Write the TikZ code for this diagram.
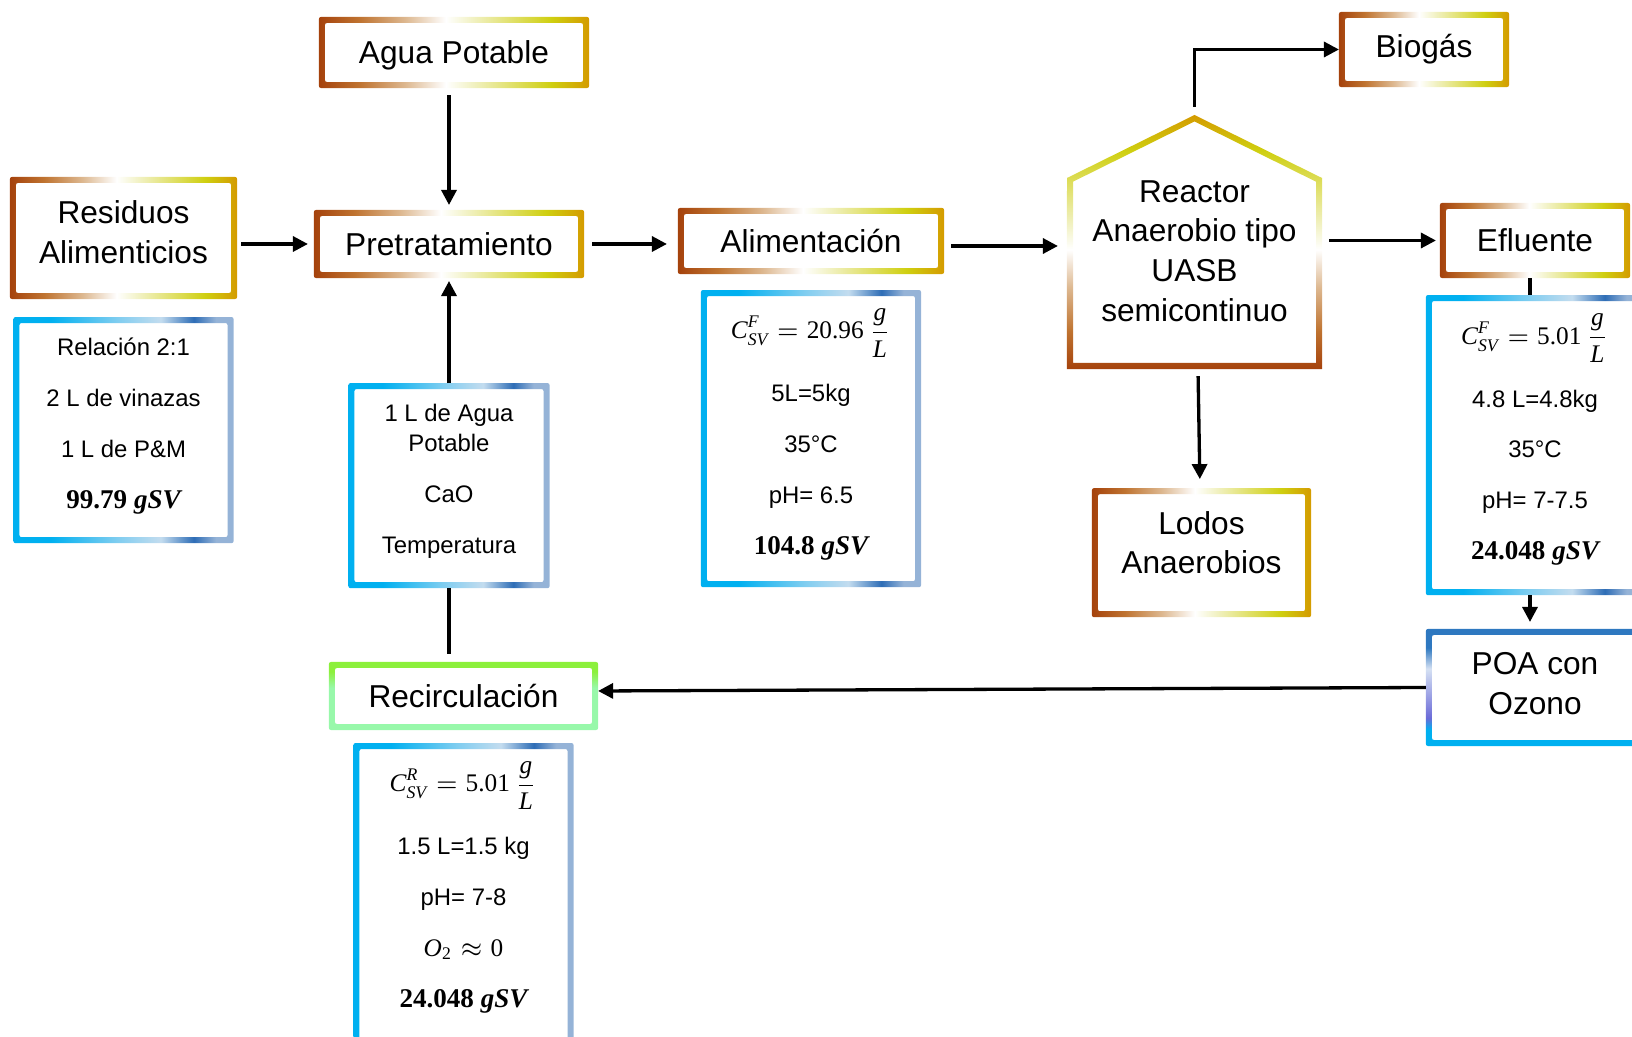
\documentclass[tikz,border=0pt]{standalone}
\usepackage{amsmath}
\usepackage{fontspec}
\newfontfamily\arialfont{Liberation Sans}
\newfontfamily\valfont{Liberation Serif}
\usetikzlibrary{arrows.meta, positioning, calc}

\definecolor{warmA}{HTML}{A5420C}
\definecolor{warmB}{HTML}{BF7330}
\definecolor{warmC}{HTML}{DDB890}
\definecolor{warmD}{HTML}{F0F0BC}
\definecolor{warmE}{HTML}{CFCF10}
\definecolor{warmF}{HTML}{D49B00}
\definecolor{coolA}{HTML}{00B0F0}
\definecolor{coolB}{HTML}{7FCDF0}
\definecolor{coolC}{HTML}{C3DCEF}
\definecolor{coolD}{HTML}{2E6DB6}
\definecolor{coolE}{HTML}{95B3D7}
\definecolor{poaB}{HTML}{6B6BD8}
\definecolor{poaC}{HTML}{D5E1F3}
\definecolor{poaD}{HTML}{2E78C0}
\definecolor{limeA}{HTML}{8CF03C}
\definecolor{mintA}{HTML}{98F8AA}

% rim colours, laid out between 25bp and 75bp
\pgfdeclarehorizontalshading{warmrim}{100bp}{color(0bp)=(warmA); color(25bp)=(warmA); color(32.5bp)=(warmB); color(41bp)=(warmC); color(48.5bp)=(white); color(54bp)=(warmD); color(68bp)=(warmE); color(75bp)=(warmF); color(100bp)=(warmF)}
\pgfdeclarehorizontalshading{coolrim}{100bp}{color(0bp)=(coolA); color(25bp)=(coolA); color(33.5bp)=(coolA); color(48.5bp)=(coolB); color(58.5bp)=(coolC); color(66bp)=(coolD); color(71bp)=(coolE); color(100bp)=(coolE)}
\pgfdeclareverticalshading{poarim}{100bp}{color(0bp)=(coolA); color(25bp)=(coolA); color(32bp)=(coolA); color(37bp)=(poaB); color(58bp)=(poaC); color(67bp)=(poaD); color(100bp)=(poaD)}
\pgfdeclareverticalshading{greenrim}{100bp}{color(0bp)=(mintA); color(25bp)=(mintA); color(56bp)=(mintA); color(68bp)=(limeA); color(100bp)=(limeA)}

% shaded frame round a node (outer sep = frame width)
\newcommand\rimbox[2][warmrim]{%
  \shade[shading=#1, even odd rule, rounded corners=0.02cm]
    (#2.south west) rectangle (#2.north east)
    ([shift={(0.06cm,0.06cm)}]#2.south west) rectangle ([shift={(-0.06cm,-0.06cm)}]#2.north east);}
% formulas in a serif face
\newcommand\varit[1]{\text{\valfont\itshape #1}}
\newcommand\varup[1]{\text{\valfont #1}}
\newcommand\conc[2]{{\fontsize{7.2}{14.5}\selectfont
  $\varit{C}^{\varit{#1}}_{\varit{SV}} = \varup{#2}\,\dfrac{\varit{g}}{\varit{L}}$}}
\newcommand\valmath[1]{{\fontsize{7.2}{14.5}\selectfont$#1$}}
\newcommand\solids[1]{{\fontsize{7.7}{14.5}\selectfont\valfont\bfseries #1 \itshape gSV}}

\begin{document}
\begin{tikzpicture}[
  x=0.01cm, y=-0.01cm,
  >={Triangle[length=0.15cm,width=0.15cm]},
  box/.style={rectangle, fill=white, inner sep=0pt, outer sep=0.06cm, align=center,
    font=\arialfont\fontsize{9}{11.3}\selectfont},
  data/.style={box, text depth=4pt, font=\arialfont\fontsize{6.8}{14.5}\selectfont},
  flow/.style={->, line width=0.033cm},
  link/.style={line width=0.033cm}
]
  \useasboundingbox (0,0) rectangle (1632,1037);

  \node[box, text depth=3.5pt, minimum width=2.15cm, minimum height=1.10cm] (resid) at (123.5,238) {Residuos\\Alimenticios};
  \node[box, text depth=0pt, minimum width=2.58cm, minimum height=0.59cm] (agua) at (454,52.5) {Agua Potable};
  \node[box, minimum width=2.58cm, minimum height=0.56cm] (pret) at (449,244) {Pretratamiento};
  \node[box, minimum width=2.54cm, minimum height=0.54cm] (alim) at (811,241) {Alimentación};
  \node[box, fill=none, outer sep=0pt, minimum width=2.55cm, minimum height=2.36cm] (reactor) at (1194.5,251)
    {Reactor\\Anaerobio tipo\\UASB\\semicontinuo};
  \node[box, minimum width=1.58cm, minimum height=0.63cm] (biogas) at (1424,49.5) {Biogás};
  \node[box, text depth=5.8pt, minimum width=2.07cm, minimum height=1.17cm, below=1.19cm of reactor, xshift=0.07cm] (lodos) {Lodos\\Anaerobios};
  \node[box, minimum width=1.78cm, minimum height=0.63cm] (eflu) at (1535,240.5) {Efluente};
  \node[box, text depth=2.5pt, minimum width=2.06cm, minimum height=1.05cm] (poa) at (1535,687.5) {POA con\\Ozono};
  \node[box, minimum width=2.57cm, minimum height=0.56cm] (recirc) at (463.5,696) {Recirculación};

  \node[data, minimum width=2.08cm, minimum height=2.14cm, below=0.18cm of resid] (mixdata)
    {Relación 2:1\\2 L de vinazas\\1 L de P\&M\\\solids{99.79}};
  \node[data, minimum width=2.08cm, minimum height=2.85cm, below=0.16cm of alim] (feeddata)
    {\conc{F}{20.96}\\[0.12cm]5L=5kg\\35°C\\pH= 6.5\\\solids{104.8}};
  \node[data, text depth=4.6pt, minimum width=2.06cm, minimum height=2.88cm, below=0.17cm of eflu] (effdata)
    {\conc{F}{5.01}\\[0.12cm]4.8 L=4.8kg\\35°C\\pH= 7-7.5\\\solids{24.048}};
  \node[data, minimum width=1.89cm, minimum height=1.93cm, below=1.05cm of pret] (pretdata)
    {1 L de Agua\\[-6pt]Potable\\CaO\\Temperatura};
  \node[data, text depth=7pt, minimum width=2.08cm, minimum height=2.95cm, below=0.13cm of recirc] (recdata)
    {\conc{R}{5.01}\\[0.12cm]1.5 L=1.5 kg\\pH= 7-8\\\valmath{\varit{O}_{\varup{2}} \approx \varup{0}}\\\solids{24.048}};

  \rimbox{resid} \rimbox{agua} \rimbox{pret} \rimbox{alim}
  \rimbox{biogas} \rimbox{lodos} \rimbox{eflu}
  \rimbox[poarim]{poa} \rimbox[greenrim]{recirc}
  \rimbox[coolrim]{mixdata} \rimbox[coolrim]{feeddata} \rimbox[coolrim]{effdata}
  \rimbox[coolrim]{pretdata} \rimbox[coolrim]{recdata}

  % reactor outline (house shape)
  \coordinate (apex) at (1194.5,115);
  \shade[shading=warmrim, shading angle=90, even odd rule]
    (reactor.south west) -- (reactor.south east) -- (1322,178) -- (apex) -- (1067,178) -- cycle
    (1073,363) -- (1316,363) -- (1316,181.7) -- (1194.5,121.5) -- (1073,181.7) -- cycle;

  \draw[flow, shorten <=0.04cm, shorten >=0.06cm] (resid.east |- pret.west) -- (pret.west);
  \draw[flow, shorten <=0.07cm, shorten >=0.05cm] (pret.north |- agua.south) -- (pret.north);
  \draw[flow, shorten <=0.08cm, shorten >=0.11cm] (pret.east) -- (alim.west |- pret.east);
  \draw[flow, shorten <=0.07cm, shorten >=0.09cm] ([yshift=-0.05cm]alim.east) -- ([yshift=-0.05cm]alim.east -| reactor.west);
  \draw[flow, shorten <=0.07cm, shorten >=0.04cm] (reactor.east |- eflu.west) -- (eflu.west);
  \draw[flow, shorten <=0.08cm] (apex) |- (biogas.west);
  \draw[flow, shorten <=0.07cm, shorten >=0.09cm] ([xshift=0.035cm]reactor.south) -- ([xshift=-0.015cm]lodos.north);
  \draw[link] ([xshift=-0.05cm]eflu.south) -- ([xshift=-0.05cm]eflu.south |- effdata.north);
  \draw[flow, shorten >=0.07cm] ([xshift=-0.05cm]eflu.south |- effdata.south) -- ([xshift=-0.05cm]eflu.south |- poa.north);
  \draw[flow] (poa.west) -- ([yshift=0.05cm]recirc.east);
  \draw[link, shorten <=0.08cm] (pretdata.south |- recirc.north) -- (pretdata.south);
  \draw[flow, shorten >=0.03cm] (pretdata.north) -- (pretdata.north |- pret.south);
\end{tikzpicture}
\end{document}
